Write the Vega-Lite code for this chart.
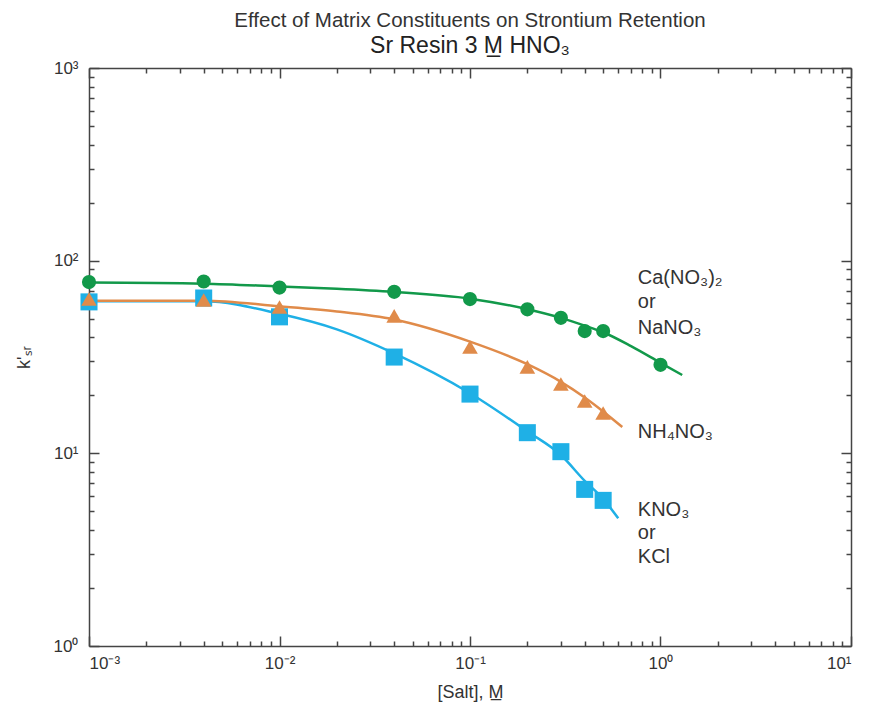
{
  "$schema": "https://vega.github.io/schema/vega-lite/v6.json",
  "width": 762,
  "height": 578,
  "autosize": {"type": "none"},
  "padding": {"left": 89, "top": 68, "right": 18, "bottom": 63},
  "background": "white",
  "config": {
    "view": {"stroke": null},
    "font": "Liberation Sans",
    "axis": {"grid": false, "domainColor": "#444", "domainWidth": 1.5, "tickColor": "#444", "tickWidth": 1.5,
             "labelFont": "Liberation Sans", "labelFontSize": 17, "labelColor": "#333",
             "titleFont": "Liberation Sans", "titleFontSize": 18, "titleFontWeight": "normal", "titleColor": "#333"}
  },
  "title": {
    "text": "Effect of Matrix Constituents on Strontium Retention",
    "subtitle": "Sr Resin 3 M̲ HNO₃",
    "anchor": "middle",
    "font": "Liberation Sans",
    "fontSize": 20.5,
    "fontWeight": "normal",
    "color": "#333",
    "subtitleFont": "Liberation Sans",
    "subtitleFontSize": 23,
    "subtitleColor": "#222",
    "subtitlePadding": 4,
    "offset": 1
  },
  "datasets": {
    "points": [
      {"series": "K", "salt": 0.001, "k": 61.1},
      {"series": "K", "salt": 0.004, "k": 64.0},
      {"series": "K", "salt": 0.01, "k": 51.1},
      {"series": "K", "salt": 0.04, "k": 31.6},
      {"series": "K", "salt": 0.1, "k": 20.3},
      {"series": "K", "salt": 0.2, "k": 12.8},
      {"series": "K", "salt": 0.3, "k": 10.2},
      {"series": "K", "salt": 0.4, "k": 6.5},
      {"series": "K", "salt": 0.5, "k": 5.7},
      {"series": "NH4", "salt": 0.001, "k": 63.2},
      {"series": "NH4", "salt": 0.004, "k": 62.5},
      {"series": "NH4", "salt": 0.01, "k": 57.5},
      {"series": "NH4", "salt": 0.04, "k": 51.7},
      {"series": "NH4", "salt": 0.1, "k": 35.6},
      {"series": "NH4", "salt": 0.2, "k": 28.1},
      {"series": "NH4", "salt": 0.3, "k": 22.9},
      {"series": "NH4", "salt": 0.4, "k": 18.7},
      {"series": "NH4", "salt": 0.5, "k": 16.2},
      {"series": "Ca", "salt": 0.001, "k": 77.4},
      {"series": "Ca", "salt": 0.004, "k": 78.0},
      {"series": "Ca", "salt": 0.01, "k": 72.5},
      {"series": "Ca", "salt": 0.04, "k": 68.9},
      {"series": "Ca", "salt": 0.1, "k": 63.2},
      {"series": "Ca", "salt": 0.2, "k": 55.9},
      {"series": "Ca", "salt": 0.3, "k": 50.5},
      {"series": "Ca", "salt": 0.4, "k": 43.1},
      {"series": "Ca", "salt": 0.5, "k": 43.1},
      {"series": "Ca", "salt": 1.0, "k": 28.8}
    ],
    "curves": [
      {"series": "K", "salt": 0.001, "k": 61.5},
      {"series": "K", "salt": 0.004, "k": 61.5},
      {"series": "K", "salt": 0.01, "k": 53.0},
      {"series": "K", "salt": 0.02, "k": 44.0},
      {"series": "K", "salt": 0.04, "k": 33.0},
      {"series": "K", "salt": 0.1, "k": 20.5},
      {"series": "K", "salt": 0.2, "k": 13.0},
      {"series": "K", "salt": 0.3, "k": 9.8},
      {"series": "K", "salt": 0.4, "k": 7.2},
      {"series": "K", "salt": 0.5, "k": 5.8},
      {"series": "K", "salt": 0.6, "k": 4.6},
      {"series": "NH4", "salt": 0.001, "k": 62.0},
      {"series": "NH4", "salt": 0.004, "k": 62.0},
      {"series": "NH4", "salt": 0.01, "k": 58.0},
      {"series": "NH4", "salt": 0.02, "k": 54.5},
      {"series": "NH4", "salt": 0.04, "k": 49.5},
      {"series": "NH4", "salt": 0.1, "k": 38.0},
      {"series": "NH4", "salt": 0.2, "k": 29.0},
      {"series": "NH4", "salt": 0.3, "k": 23.5},
      {"series": "NH4", "salt": 0.4, "k": 19.5},
      {"series": "NH4", "salt": 0.5, "k": 16.5},
      {"series": "NH4", "salt": 0.63, "k": 13.7},
      {"series": "Ca", "salt": 0.001, "k": 77.0},
      {"series": "Ca", "salt": 0.004, "k": 76.0},
      {"series": "Ca", "salt": 0.01, "k": 73.5},
      {"series": "Ca", "salt": 0.02, "k": 71.5},
      {"series": "Ca", "salt": 0.04, "k": 68.8},
      {"series": "Ca", "salt": 0.1, "k": 63.5},
      {"series": "Ca", "salt": 0.2, "k": 56.0},
      {"series": "Ca", "salt": 0.3, "k": 50.5},
      {"series": "Ca", "salt": 0.4, "k": 46.0},
      {"series": "Ca", "salt": 0.5, "k": 42.5},
      {"series": "Ca", "salt": 0.7, "k": 36.0},
      {"series": "Ca", "salt": 1.0, "k": 29.5},
      {"series": "Ca", "salt": 1.3, "k": 25.5}
    ],
    "labels": [
      {"grp": "a", "text": "Ca(NO₃)₂", "salt": 0.76, "k": 81.3},
      {"grp": "a", "text": "or", "salt": 0.76, "k": 61.1},
      {"grp": "a", "text": "NaNO₃", "salt": 0.76, "k": 44.8},
      {"grp": "b", "text": "NH₄NO₃", "salt": 0.76, "k": 12.9},
      {"grp": "b", "text": "KNO₃", "salt": 0.76, "k": 5.08},
      {"grp": "b", "text": "or", "salt": 0.76, "k": 3.87},
      {"grp": "b", "text": "KCl", "salt": 0.76, "k": 2.9}
    ]
  },
  "resolve": {"axis": {"x": "independent", "y": "independent"}},
  "layer": [
    {
      "data": {"name": "curves"},
      "mark": {"type": "line", "interpolate": "monotone", "strokeWidth": 2.5},
      "encoding": {
        "x": {"field": "salt", "type": "quantitative",
              "scale": {"type": "log", "domain": [0.001, 10], "nice": false},
              "axis": {"orient": "bottom", "title": "[Salt], M̲", "values": [0.001, 0.01, 0.1, 1, 10],
                       "tickSize": -10, "labelPadding": 19, "titlePadding": 12,
                       "labelExpr": "datum.value < 0.005 ? '10⁻³' : datum.value < 0.05 ? '10⁻²' : datum.value < 0.5 ? '10⁻¹' : datum.value < 5 ? '10⁰' : '10¹'"}},
        "y": {"field": "k", "type": "quantitative",
              "scale": {"type": "log", "domain": [1, 1000], "nice": false},
              "axis": {"orient": "left", "title": "k'ₛᵣ", "values": [1, 10, 100, 1000],
                       "tickSize": -10, "labelPadding": 21, "titlePadding": 20,
                       "labelExpr": "datum.value < 5 ? '10⁰' : datum.value < 50 ? '10¹' : datum.value < 500 ? '10²' : '10³'"}},
        "color": {"field": "series", "type": "nominal",
                  "scale": {"domain": ["Ca", "NH4", "K"], "range": ["#12994a", "#e08b4a", "#1fb0e6"]}, "legend": null},
        "detail": {"field": "series"}
      }
    },
    {
      "data": {"name": "points"},
      "mark": {"type": "point", "filled": true, "opacity": 1},
      "encoding": {
        "x": {"field": "salt", "type": "quantitative",
              "axis": {"orient": "bottom", "title": null, "labels": false, "domain": false, "tickSize": -5,
                       "values": [0.002, 0.003, 0.004, 0.005, 0.006, 0.007, 0.008, 0.009,
                                  0.02, 0.03, 0.04, 0.05, 0.06, 0.07, 0.08, 0.09,
                                  0.2, 0.3, 0.4, 0.5, 0.6, 0.7, 0.8, 0.9,
                                  2, 3, 4, 5, 6, 7, 8, 9]}},
        "y": {"field": "k", "type": "quantitative",
              "axis": {"orient": "left", "title": null, "labels": false, "domain": false, "tickSize": -5,
                       "values": [2, 3, 4, 5, 6, 7, 8, 9, 20, 30, 40, 50, 60, 70, 80, 90,
                                  200, 300, 400, 500, 600, 700, 800, 900]}},
        "color": {"field": "series", "type": "nominal", "legend": null},
        "size": {"field": "series", "type": "nominal",
                 "scale": {"domain": ["Ca", "NH4", "K"], "range": [200, 290, 180]}, "legend": null},
        "shape": {"field": "series", "type": "nominal",
                  "scale": {"domain": ["Ca", "NH4", "K"], "range": ["circle", "triangle-up", "square"]}, "legend": null}
      }
    },
    {
      "data": {"name": "labels"},
      "transform": [{"filter": "datum.grp == 'a'"}],
      "mark": {"type": "text", "align": "left", "baseline": "middle", "fontSize": 20, "color": "#333", "font": "Liberation Sans"},
      "encoding": {
        "x": {"field": "salt", "type": "quantitative",
              "axis": {"orient": "top", "title": null, "labels": false, "tickSize": -10, "values": [0.001, 0.01, 0.1, 1, 10]}},
        "y": {"field": "k", "type": "quantitative",
              "axis": {"orient": "right", "title": null, "labels": false, "tickSize": -10, "values": [1, 10, 100, 1000]}},
        "text": {"field": "text"}
      }
    },
    {
      "data": {"name": "labels"},
      "transform": [{"filter": "datum.grp == 'b'"}],
      "mark": {"type": "text", "align": "left", "baseline": "middle", "fontSize": 20, "color": "#333", "font": "Liberation Sans"},
      "encoding": {
        "x": {"field": "salt", "type": "quantitative",
              "axis": {"orient": "top", "title": null, "labels": false, "domain": false, "tickSize": -5,
                       "values": [0.002, 0.003, 0.004, 0.005, 0.006, 0.007, 0.008, 0.009,
                                  0.02, 0.03, 0.04, 0.05, 0.06, 0.07, 0.08, 0.09,
                                  0.2, 0.3, 0.4, 0.5, 0.6, 0.7, 0.8, 0.9,
                                  2, 3, 4, 5, 6, 7, 8, 9]}},
        "y": {"field": "k", "type": "quantitative",
              "axis": {"orient": "right", "title": null, "labels": false, "domain": false, "tickSize": -5,
                       "values": [2, 3, 4, 5, 6, 7, 8, 9, 20, 30, 40, 50, 60, 70, 80, 90,
                                  200, 300, 400, 500, 600, 700, 800, 900]}},
        "text": {"field": "text"}
      }
    }
  ]
}
